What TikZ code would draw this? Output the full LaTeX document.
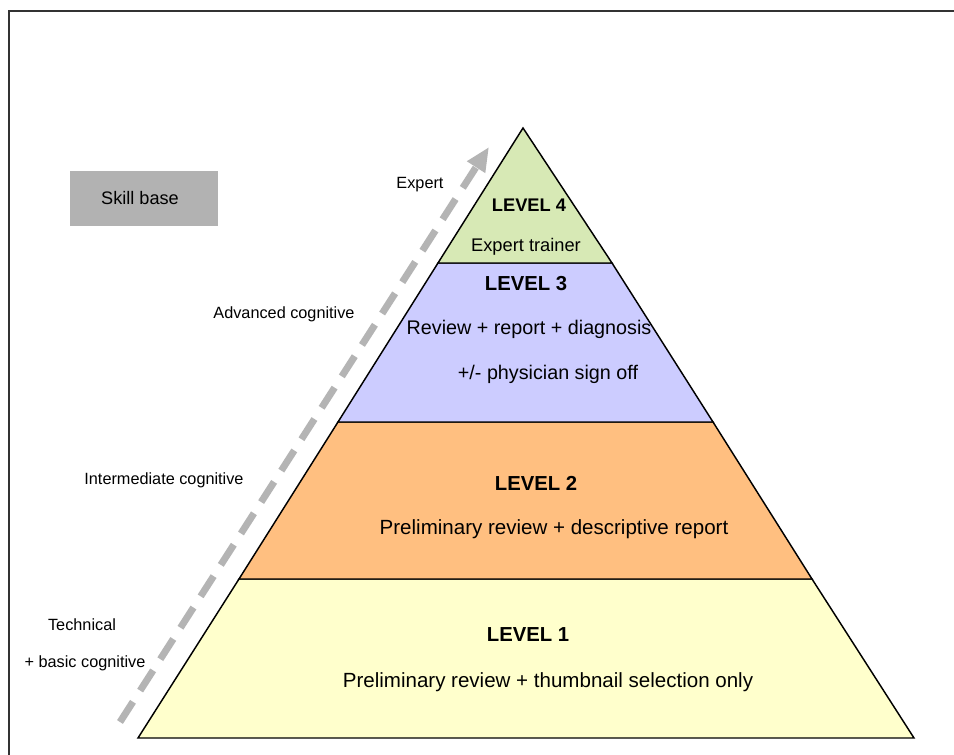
\documentclass[tikz,border=0pt]{standalone}
\usepackage{fontspec}
\setmainfont{Liberation Sans}
\usetikzlibrary{arrows.meta}
\definecolor{lvlfour}{HTML}{D7E9B5}
\definecolor{lvlthree}{HTML}{CCCCFF}
\definecolor{lvltwo}{HTML}{FFBF80}
\definecolor{lvlone}{HTML}{FFFFCC}
\definecolor{skillgray}{HTML}{B2B2B2}
\definecolor{arrowgray}{HTML}{B4B4B4}
\definecolor{framegray}{HTML}{333333}

\begin{document}
\begin{tikzpicture}[x=0.75pt, y=-0.75pt, every node/.style={inner sep=0pt, outer sep=0pt},
  tier/.style={draw=black, line width=1.1pt, line join=miter},
  side/.style={font=\fontsize{12.2}{14}\selectfont},
  lvl/.style={font=\fontsize{15.2}{18}\selectfont\bfseries},
  job/.style={font=\fontsize{15.4}{18}\selectfont},
  midjob/.style={font=\fontsize{14.8}{18}\selectfont},
  toplvl/.style={font=\fontsize{13.7}{16}\selectfont\bfseries},
  topjob/.style={font=\fontsize{13.7}{16}\selectfont}]
\useasboundingbox (0,0) rectangle (954,755);
\fill[white] (0,0) rectangle (954,755);
\draw[framegray, line width=1.6pt] (9,770) -- (9,11) -- (970,11);

\fill[skillgray] (70,171) rectangle (218,226);
\node[font=\fontsize{13.6}{16}\selectfont] (skill) at (140,198) {Skill base};

\filldraw[tier, fill=lvlone] (138,738) -- (239,579) -- (812,579) -- (914,738) -- cycle;
\filldraw[tier, fill=lvltwo] (239,579) -- (338,422) -- (713,422) -- (812,579) -- cycle;
\filldraw[tier, fill=lvlthree] (338,422) -- (438,263) -- (612,263) -- (713,422) -- cycle;
\filldraw[tier, fill=lvlfour] (438,263) -- (523,128) -- (612,263) -- cycle;

\coordinate (arrowtail) at (120,722);
\coordinate (arrowhead) at (489,147);
\draw[arrowgray, line width=5.2pt, dash pattern=on 18pt off 10pt, -{Triangle[length=18pt, width=15pt]}] (arrowtail) -- (arrowhead);

\node[side] (expert) at (420,185) {Expert};
\node[side] (advanced) at (284,314) {Advanced cognitive};
\node[side] (intermediate) at (164,480) {Intermediate cognitive};
\node[side] (technical) at (82,625) {Technical};
\node[side] (basic) at (85,663) {+ basic cognitive};

\node[toplvl] (levelfour) at (529,205) {LEVEL 4};
\node[topjob] (trainer) at (526,247) {Expert trainer};
\node[lvl] (levelthree) at (526,284) {LEVEL 3};
\node[midjob] (review) at (529,329) {Review + report + diagnosis};
\node[midjob] (signoff) at (548,374) {+/- physician sign off};
\node[lvl] (leveltwo) at (536,483) {LEVEL 2};
\node[job] (descriptive) at (554,529) {Preliminary review + descriptive report};
\node[lvl] (levelone) at (528,635) {LEVEL 1};
\node[job] (thumbnail) at (548,682) {Preliminary review + thumbnail selection only};
\end{tikzpicture}
\end{document}
